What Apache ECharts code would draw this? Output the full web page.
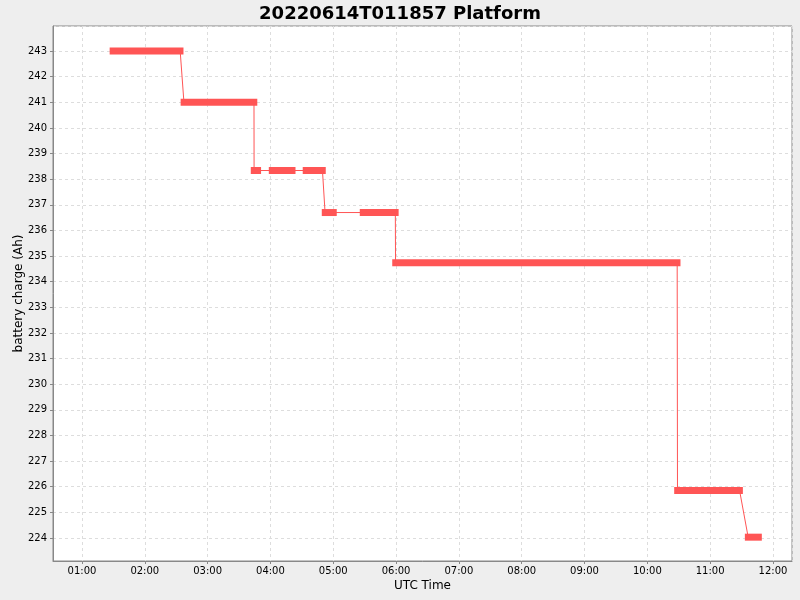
<!DOCTYPE html>
<html>
<head>
<meta charset="utf-8">
<script src="https://cdn.jsdelivr.net/npm/echarts@6/dist/echarts.min.js"></script>
<style>
  html, body { margin: 0; padding: 0; background: #eeeeee; }
  #chart { width: 800px; height: 600px; }
</style>
</head>
<body>
<div id="chart"></div>
<script>
// battery charge steps, one row per run of samples (UTC, 2022-06-14)
var day = '2022-06-14';
var segStart = ['01:29:36', '02:37:24', '03:44:24', '04:01:36', '04:34:00', '04:52:12', '05:28:30', '05:59:30', '10:28:48', '11:36:18'];
var segEnd   = ['02:33:48', '03:44:18', '03:47:54', '04:20:48', '04:49:42', '05:00:12', '05:59:18', '10:28:30', '11:28:06', '11:46:12'];
var segValue = [243.00, 241.00, 238.34, 238.34, 238.34, 236.70, 236.70, 234.74, 225.85, 224.03];

var axisMin = '00:32:20';
var axisMax = '12:18:10';
var yMin = 223.1;
var yMax = 243.98;

function ts(hms) {
    return new Date(day + 'T' + hms + 'Z').getTime();
}

function pad(n) {
    return n < 10 ? '0' + n : '' + n;
}

// thin line through every run, thick bars on top
var lineData = [];
var barData = [];
for (var i = 0; i < segValue.length; i++) {
    lineData.push([ts(segStart[i]), segValue[i]]);
    lineData.push([ts(segEnd[i]), segValue[i]]);
    barData.push([ts(segStart[i]), ts(segEnd[i]), segValue[i]]);
}

var red = '#ff5555';
var font = 'DejaVu Sans';

var chart = echarts.init(document.getElementById('chart'));
chart.setOption({
    useUTC: true,
    animation: false,
    backgroundColor: '#eeeeee',
    title: {
        text: '20220614T011857 Platform',
        left: 'center',
        top: 0,
        textStyle: { fontFamily: font, fontSize: 18, fontWeight: 'bold', color: '#000' }
    },
    grid: {
        left: 53, right: 8, top: 26, bottom: 39,
        outerBoundsMode: 'none',
        containLabel: false,
        show: true,
        backgroundColor: '#ffffff',
        borderColor: '#888888',
        borderWidth: 1
    },
    xAxis: {
        type: 'time',
        min: ts(axisMin),
        max: ts(axisMax),
        splitNumber: 12,
        name: 'UTC Time',
        nameLocation: 'middle',
        nameGap: 19,
        nameMoveOverlap: false,
        nameTextStyle: { fontFamily: font, fontSize: 12, color: '#000', verticalAlign: 'top' },
        axisLine: { lineStyle: { color: '#888888' } },
        axisTick: { show: true, length: 3, lineStyle: { color: '#888888' } },
        axisLabel: {
            fontFamily: font, fontSize: 10, color: '#000', margin: 5,
            showMinLabel: false, showMaxLabel: false,
            formatter: function (v) {
                var d = new Date(v);
                return pad(d.getUTCHours()) + ':' + pad(d.getUTCMinutes());
            }
        },
        splitLine: { show: true, lineStyle: { color: '#dddddd', type: [3, 3] } }
    },
    yAxis: {
        type: 'value',
        min: yMin,
        max: yMax,
        splitNumber: 20,
        name: 'battery charge (Ah)',
        nameLocation: 'middle',
        nameGap: 28,
        nameMoveOverlap: false,
        nameTextStyle: { fontFamily: font, fontSize: 12, color: '#000' },
        axisLine: { show: true, lineStyle: { color: '#888888' } },
        axisTick: { show: true, length: 3, lineStyle: { color: '#888888' } },
        axisLabel: {
            fontFamily: font, fontSize: 10, color: '#000', margin: 6,
            showMinLabel: false, showMaxLabel: false
        },
        splitLine: { show: true, lineStyle: { color: '#dddddd', type: [3, 3] } }
    },
    series: [
        {
            type: 'line',
            data: lineData,
            showSymbol: false,
            lineStyle: { color: red, width: 1 },
            z: 2
        },
        {
            type: 'custom',
            data: barData,
            encode: { x: [0, 1], y: 2 },
            z: 3,
            renderItem: function (params, api) {
                var a = api.coord([api.value(0), api.value(2)]);
                var b = api.coord([api.value(1), api.value(2)]);
                var h = 7, ext = 3.3;
                return {
                    type: 'rect',
                    shape: { x: a[0] - ext, y: a[1] - h / 2, width: b[0] - a[0] + 2 * ext, height: h },
                    style: { fill: red }
                };
            }
        }
    ]
});
</script>
</body>
</html>
